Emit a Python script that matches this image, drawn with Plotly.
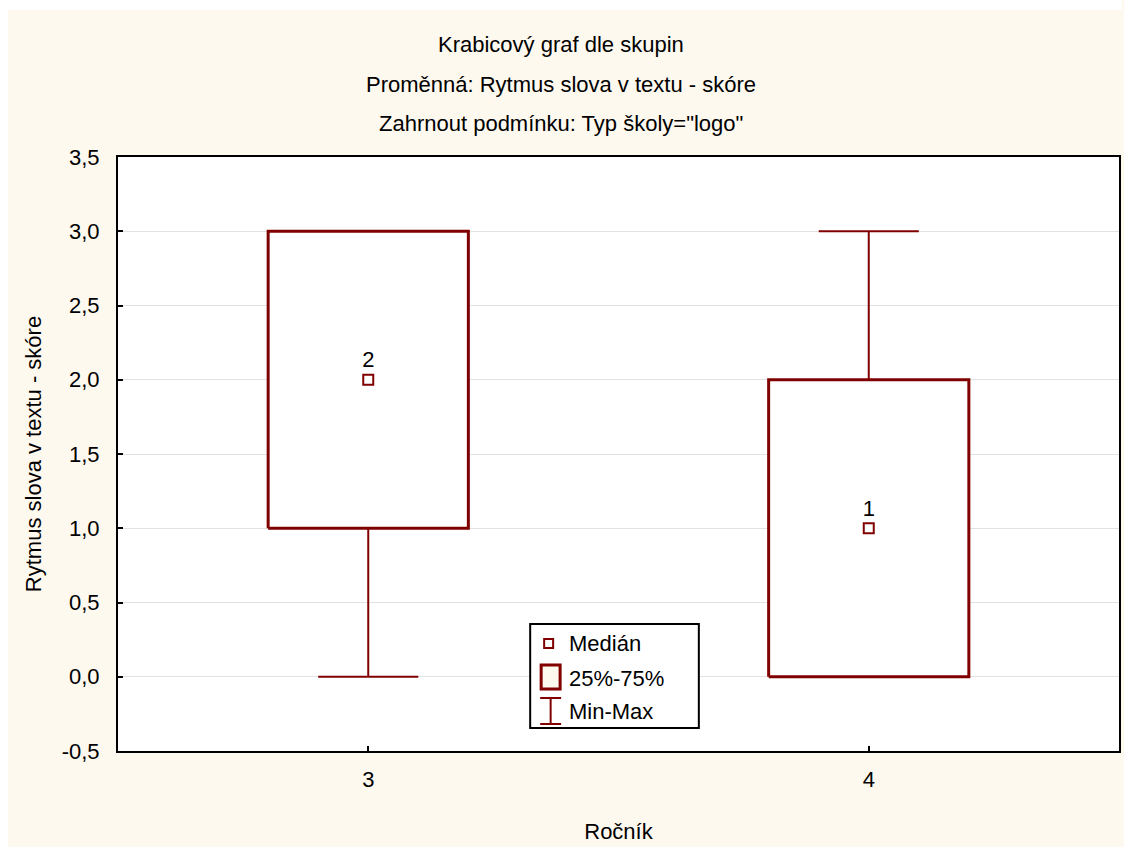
import plotly.graph_objects as go

# Summary statistics per school year (Ročník)
groups = [3, 4]
minimum = [0.0, 0.0]
q1 = [1.0, 0.0]
median = [2.0, 1.0]
q3 = [3.0, 2.0]
maximum = [3.0, 3.0]
median_labels = ["2", "1"]

y_tick_vals = [-0.5, 0.0, 0.5, 1.0, 1.5, 2.0, 2.5, 3.0, 3.5]
y_tick_text = ["-0,5", "0,0", "0,5", "1,0", "1,5", "2,0", "2,5", "3,0", "3,5"]

MAROON = "#800000"
CREAM = "#FEF9EF"
FONT = "Arial, Liberation Sans, sans-serif"
FS = 22
BOX_HALF = 0.2
CAP_HALF = 0.1

fig = go.Figure()

for g, lo, a, m, b, hi, lab in zip(groups, minimum, q1, median, q3, maximum, median_labels):
    # whiskers with caps
    fig.add_trace(go.Scatter(
        x=[g, g, None, g - CAP_HALF, g + CAP_HALF, None,
           g, g, None, g - CAP_HALF, g + CAP_HALF],
        y=[b, hi, None, hi, hi, None, a, lo, None, lo, lo],
        mode="lines", line=dict(color=MAROON, width=2),
        hoverinfo="skip", showlegend=False))
    # 25%-75% box
    fig.add_trace(go.Scatter(
        x=[g - BOX_HALF, g + BOX_HALF, g + BOX_HALF, g - BOX_HALF, g - BOX_HALF],
        y=[a, a, b, b, a],
        mode="lines", fill="toself", fillcolor="white",
        line=dict(color=MAROON, width=3),
        hoverinfo="skip", showlegend=False))
    # median marker with its value
    fig.add_trace(go.Scatter(
        x=[g], y=[m], mode="markers+text", text=[lab],
        textposition="top center",
        textfont=dict(family=FONT, size=FS, color="black"),
        marker=dict(symbol="square", size=10, color="white",
                    line=dict(color=MAROON, width=2)),
        hoverinfo="skip", showlegend=False))

# plot area in pixels: x 118..1121, y 157..751
L, R, T, B = 118, 1121, 157, 751
W, H = R - L, B - T


def px(xp):
    return (xp - L) / W


def py(yp):
    return (B - yp) / H


shapes = [
    # white strips along the top and left page edges
    dict(type="rect", xref="paper", yref="paper", layer="below",
         x0=px(0), x1=px(1124), y0=py(10), y1=py(0),
         fillcolor="white", line=dict(width=0)),
    dict(type="rect", xref="paper", yref="paper", layer="below",
         x0=px(0), x1=px(8), y0=py(847), y1=py(0),
         fillcolor="white", line=dict(width=0)),
    # legend frame
    dict(type="rect", xref="paper", yref="paper",
         x0=px(531), x1=px(700), y0=py(624), y1=py(728),
         fillcolor="white", line=dict(color="black", width=2)),
    # legend: median symbol
    dict(type="rect", xref="paper", yref="paper",
         x0=px(545), x1=px(554), y0=py(639), y1=py(648),
         fillcolor="white", line=dict(color=MAROON, width=2)),
    # legend: box symbol
    dict(type="rect", xref="paper", yref="paper",
         x0=px(542), x1=px(561), y0=py(665), y1=py(689),
         fillcolor=CREAM, line=dict(color=MAROON, width=3)),
    # legend: min-max symbol
    dict(type="line", xref="paper", yref="paper",
         x0=px(551.5), x1=px(551.5), y0=py(698), y1=py(724),
         line=dict(color=MAROON, width=2)),
    dict(type="line", xref="paper", yref="paper",
         x0=px(541), x1=px(562), y0=py(698), y1=py(698),
         line=dict(color=MAROON, width=2)),
    dict(type="line", xref="paper", yref="paper",
         x0=px(541), x1=px(562), y0=py(724), y1=py(724),
         line=dict(color=MAROON, width=2)),
]

annotations = []
for txt, yp in [("Krabicový graf dle skupin", 45),
                ("Proměnná: Rytmus slova v textu - skóre", 84),
                ("Zahrnout podmínku: Typ školy=\"logo\"", 124)]:
    annotations.append(dict(text=txt, xref="paper", yref="paper",
                            x=px(562), y=py(yp), showarrow=False,
                            xanchor="center", yanchor="middle",
                            font=dict(family=FONT, size=FS, color="black")))
for txt, yp in [("Medián", 643), ("25%-75%", 678), ("Min-Max", 711)]:
    annotations.append(dict(text=txt, xref="paper", yref="paper",
                            x=px(568), y=py(yp), showarrow=False,
                            xanchor="left", yanchor="middle",
                            font=dict(family=FONT, size=FS, color="black")))

fig.update_layout(
    width=1124, height=847,
    margin=dict(l=L, r=1124 - R, t=T, b=847 - B),
    paper_bgcolor=CREAM, plot_bgcolor="white",
    font=dict(family=FONT, size=FS, color="black"),
    showlegend=False,
    shapes=shapes, annotations=annotations,
    xaxis=dict(range=[2.5, 4.5], tickvals=groups, ticktext=[str(g) for g in groups],
               ticks="inside", ticklen=5, tickwidth=2, tickcolor="black",
               showgrid=False, zeroline=False,
               showline=True, linecolor="black", linewidth=2, mirror=True,
               ticklabelstandoff=8,
               title=dict(text="Ročník", standoff=32,
                          font=dict(family=FONT, size=FS))),
    yaxis=dict(range=[-0.5, 3.5], tickvals=y_tick_vals, ticktext=y_tick_text,
               ticks="inside", ticklen=5, tickwidth=2, tickcolor="black",
               showgrid=True, gridcolor="#E2E2E2", gridwidth=1, zeroline=False,
               showline=True, linecolor="black", linewidth=2, mirror=True,
               ticklabelstandoff=12,
               title=dict(text="Rytmus slova v textu - skóre", standoff=14,
                          font=dict(family=FONT, size=FS))),
)

fig.write_html("out.html")
